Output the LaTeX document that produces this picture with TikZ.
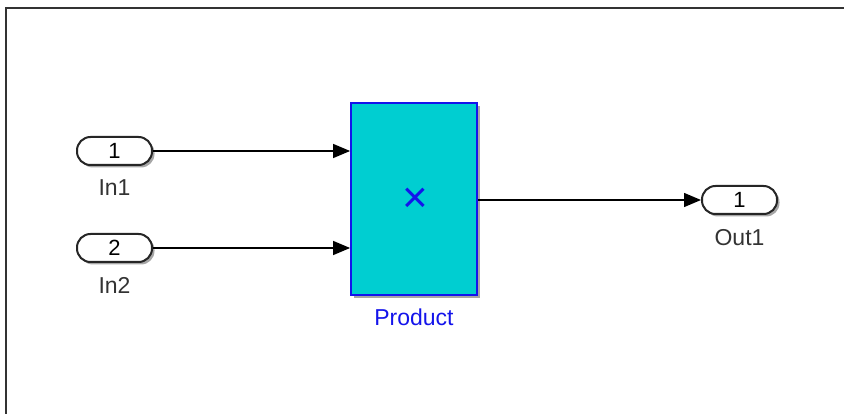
\documentclass[tikz,border=0pt]{standalone}
\usepackage{fontspec}
\setmainfont{Liberation Sans}
\usetikzlibrary{arrows.meta,shadows}
\definecolor{boxcyan}{RGB}{0,206,209}
\definecolor{boxblue}{RGB}{20,20,235}
\tikzset{
  port/.style={draw=black!85, line width=2pt, fill=white, rounded corners=13.5pt,
    minimum width=75pt, minimum height=28pt, inner sep=0pt,
    font=\fontsize{22}{24}\selectfont,
    drop shadow={shadow xshift=2.5pt, shadow yshift=-2.5pt, opacity=0.35, fill=black}},
  prodbox/.style={draw=boxblue, line width=1.8pt, fill=boxcyan,
    minimum width=126pt, minimum height=192pt, inner sep=0pt,
    drop shadow={shadow xshift=3pt, shadow yshift=-3pt, opacity=0.35, fill=black}},
  lbl/.style={font=\fontsize{23}{26}\selectfont, inner sep=0pt},
  sig/.style={line width=1.4pt, -{Triangle[length=17pt,width=14pt]}},
}
\begin{document}
\begin{tikzpicture}[x=1pt,y=-1pt]
\useasboundingbox (0,0) rectangle (844,414);
\fill[white] (0,0) rectangle (844,414);
\draw[line width=2pt, black!80] (6,414) -- (6,8) -- (844,8);

\node[port] (in1) at (114.5,151) {1};
\node[lbl, text=black!80] (in1l) at (114.5,188) {In1};
\node[port] (in2) at (114.5,248) {2};
\node[lbl, text=black!80] (in2l) at (114.5,285) {In2};

\node[prodbox] (prod) at (414,199) {};
\node[text=boxblue, font=\fontsize{44}{46}\selectfont, inner sep=0pt] (times) at (415,200) {\char"00D7};
\node[lbl, text=boxblue] (prodl) at (414,317) {Product};

\node[port] (out1) at (739.5,200) {1};
\node[lbl, text=black!80] (out1l) at (739.5,238) {Out1};

\draw[sig] (in1.east) -- (in1.east -| prod.west);
\draw[sig] (in2.east) -- (in2.east -| prod.west);
\draw[sig] (prod.east |- out1.west) -- (out1.west);
\end{tikzpicture}
\end{document}
